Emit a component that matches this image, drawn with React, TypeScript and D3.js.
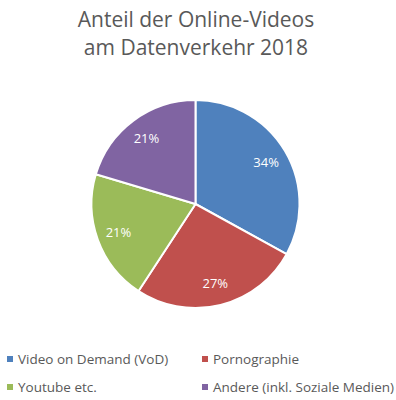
import React from "react";
import * as d3 from "d3";

const categories = ["Video on Demand (VoD)", "Pornographie", "Youtube etc.", "Andere (inkl. Soziale Medien)"];
const values = [34, 27, 21, 21];
const colors = ["#4F81BD", "#C0504D", "#9BBB59", "#8064A2"];
const titleLines = ["Anteil der Online-Videos", "am Datenverkehr 2018"];

export default function App() {
  const W = 396, H = 400;
  const cx = 195.5, cy = 204, R = 104;
  const pie = d3.pie<number>().sort(null).value((d) => d);
  const arcs = pie(values);
  const arc = d3.arc<d3.PieArcDatum<number>>().innerRadius(0).outerRadius(R);
  const labelArc = d3.arc<d3.PieArcDatum<number>>().innerRadius(82).outerRadius(82);
  const font = "'Open Sans', sans-serif";
  const legendPos = [
    [7, 359],
    [202, 359],
    [7, 387],
    [202, 387],
  ];
  return (
    <svg width={W} height={H} style={{ position: "absolute", left: 0, top: 0, background: "#fff" }}>
      {titleLines.map((t, i) => (
        <text key={i} x={196} y={27 + i * 28} textAnchor="middle" fontFamily={font} fontSize={21} fill="#595959">
          {t}
        </text>
      ))}
      <g transform={`translate(${cx},${cy})`}>
        {arcs.map((a, i) => (
          <path key={i} d={arc(a) || ""} fill={colors[i]} stroke="#fff" strokeWidth={2} strokeLinejoin="round" />
        ))}
        {arcs.map((a, i) => {
          const [x, y] = labelArc.centroid(a);
          return (
            <text key={i} x={x} y={y} dy="0.35em" textAnchor="middle" fontFamily={font} fontSize={13} fill="#fff">
              {values[i]}%
            </text>
          );
        })}
      </g>
      {categories.map((c, i) => (
        <g key={i}>
          <rect x={legendPos[i][0]} y={legendPos[i][1] - 3} width={6} height={6} fill={colors[i]} />
          <text x={legendPos[i][0] + 11} y={legendPos[i][1]} dy="0.35em" fontFamily={font} fontSize={13.5} fill="#595959">
            {c}
          </text>
        </g>
      ))}
    </svg>
  );
}
